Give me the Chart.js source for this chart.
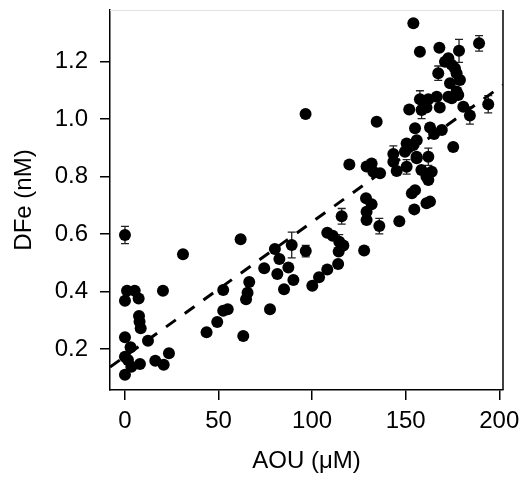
<!DOCTYPE html>
<html>
<head>
<meta charset="utf-8">
<script src="https://cdn.jsdelivr.net/npm/chart.js@4/dist/chart.umd.min.js"></script>
<style>
  html, body { margin: 0; padding: 0; background: #fff; }
  canvas { display: block; }
</style>
</head>
<body>
<canvas id="c" width="522" height="478"></canvas>
<script>
// ---- data ----
const aou = [
  0, 31, 1.1, 5.2, 0, 7.3, 20.3, 7.5, 7.8, 8.4, 0, 12.3, 3.0, 0, 1.6, 3.4, 8.0, 16.2, 20.7, 23.5, 0,
  43.6, 49.3, 52.5, 54.9, 52.5, 61.8, 63.2, 66.4, 65.5, 64.7, 77.5, 74.4, 80.1, 82.5, 81.4, 87.3, 85.0, 90.0,
  89.1, 96.6, 100.1, 103.7, 108.1, 108.1, 96.5,
  119.9, 129.1, 131.8, 132.7, 136.3, 143.4, 145.2, 150.5, 149.6, 154.1, 155.8, 158.4, 161.1, 155.0, 153.3,
  154.6, 161.1, 128.8, 131.8, 129.1, 129.1, 135.9, 146.6, 115.8, 111.0, 114.5, 116.7, 114.2, 127.8, 113.9, 134.5,
  154.1, 157.6, 168.0, 178.5, 189.2, 171.0, 172.8, 174.6, 176.3, 177.2, 167.4, 173.7, 179.0, 177.2, 172.8,
  174.6, 178.1, 157.6, 162.1, 166.6, 151.9, 158.5, 161.1, 168.2, 180.8, 184.3, 194.1, 155.0, 163.0, 165.2,
  169.3, 175.4, 155.9, 150.5, 143.4, 155.9, 162.1, 163.9, 162.1, 163.0
];
const dfe = [
  0.597, 0.530, 0.403, 0.403, 0.368, 0.376, 0.403, 0.315, 0.295, 0.272, 0.241, 0.229, 0.206, 0.173, 0.162, 0.138, 0.148, 0.159, 0.145, 0.185, 0.110,
  0.258, 0.294, 0.333, 0.338, 0.405, 0.582, 0.245, 0.433, 0.396, 0.373, 0.338, 0.481, 0.548, 0.513, 0.461, 0.484, 0.408, 0.440,
  0.562, 0.541, 0.420, 0.450, 0.477, 0.605, 1.018,
  0.842, 0.835, 0.846, 0.817, 0.812, 0.879, 0.820, 0.834, 0.887, 0.910, 0.869, 0.823, 0.800, 0.753, 0.742,
  0.686, 0.707, 0.725, 0.704, 0.678, 0.649, 0.628, 0.645, 0.662, 0.594, 0.573, 0.560, 0.539, 0.543, 0.496, 0.991,
  1.334, 1.235, 1.249, 1.238, 1.264, 1.200, 1.212, 1.189, 1.177, 1.160, 1.160, 1.125, 1.136, 1.096, 1.078,
  1.073, 1.084, 1.069, 1.069, 1.078, 1.034, 1.032, 1.041, 1.041, 1.043, 1.013, 1.052, 0.968, 0.971, 0.948,
  0.962, 0.903, 0.927, 0.915, 0.852, 0.864, 0.869, 0.817, 0.788, 0.713
];
// error bars: index into the arrays above, half-length in nM
const errIndex = [0, 39, 40, 51, 53, 67, 69, 71, 80, 81, 87, 94, 98, 102, 103, 113];
const errSize  = [0.03, 0.045, 0.02, 0.028, 0.025, 0.027, 0.027, 0.025, 0.04, 0.027, 0.025, 0.03, 0.03, 0.03, 0.03, 0.03];
// dashed regression line end points
const fitX = [-8, 202];
const fitY = [0.137, 1.119];
const xTicks = [0, 50, 100, 150, 200];
const yTicks = [0.2, 0.4, 0.6, 0.8, 1.0, 1.2];

const FONT = "'Liberation Sans', Arial, Helvetica, sans-serif";

const points = aou.map((x, i) => ({ x: x, y: dfe[i] }));
const fitLine = fitX.map((x, i) => ({ x: x, y: fitY[i] }));

const errorBars = {
  id: 'errorBars',
  beforeDatasetsDraw(chart) {
    const { ctx, scales: { x, y } } = chart;
    ctx.save();
    ctx.strokeStyle = '#222';
    ctx.lineWidth = 1.3;
    errIndex.forEach((idx, k) => {
      const px = x.getPixelForValue(aou[idx]);
      const top = y.getPixelForValue(dfe[idx] + errSize[k]);
      const bot = y.getPixelForValue(dfe[idx] - errSize[k]);
      ctx.beginPath();
      ctx.moveTo(px, top); ctx.lineTo(px, bot);
      ctx.moveTo(px - 4, top); ctx.lineTo(px + 4, top);
      ctx.moveTo(px - 4, bot); ctx.lineTo(px + 4, bot);
      ctx.stroke();
    });
    ctx.restore();
  }
};

const frame = {
  id: 'frame',
  afterDraw(chart) {
    const { ctx, chartArea: a } = chart;
    ctx.save();
    ctx.strokeStyle = '#e2e2e2';
    ctx.lineWidth = 1;
    ctx.beginPath();
    ctx.moveTo(a.left, a.top + 0.5); ctx.lineTo(a.right, a.top + 0.5);
    ctx.stroke();
    ctx.strokeStyle = '#000';
    ctx.lineWidth = 1.5;
    ctx.beginPath();
    ctx.moveTo(a.right, a.top); ctx.lineTo(a.right, a.bottom);
    ctx.stroke();
    ctx.restore();
  }
};

new Chart(document.getElementById('c'), {
  type: 'scatter',
  data: {
    datasets: [
      {
        type: 'line',
        data: fitLine,
        borderColor: '#000',
        borderWidth: 3,
        borderDash: [12, 11],
        pointRadius: 0,
        fill: false,
        order: 0
      },
      {
        data: points,
        backgroundColor: '#000',
        borderColor: '#000',
        borderWidth: 0,
        pointRadius: 6,
        order: 1
      }
    ]
  },
  options: {
    responsive: false,
    animation: false,
    devicePixelRatio: 1,
    layout: { padding: { top: 10, right: 19, left: 0, bottom: 0 } },
    plugins: { legend: { display: false }, tooltip: { enabled: false } },
    scales: {
      x: {
        type: 'linear',
        min: -8,
        max: 202,
        afterBuildTicks: s => { s.ticks = xTicks.map(v => ({ value: v })); },
        afterFit: s => { s.height = 88; s.paddingLeft = 0; s.paddingRight = 0; },
        border: { display: true, color: '#000', width: 1.5 },
        grid: { drawOnChartArea: false, drawTicks: true, tickLength: 10, color: '#000', lineWidth: 1.5 },
        ticks: { color: '#000', font: { family: FONT, size: 24 }, padding: 7, maxRotation: 0,
                 callback: v => String(v) },
        title: { display: true, text: 'AOU (\u03bcM)', color: '#000',
                 font: { family: FONT, size: 24 }, padding: { top: 0, bottom: 2 } }
      },
      y: {
        type: 'linear',
        min: 0.0573,
        max: 1.38,
        afterBuildTicks: s => { s.ticks = yTicks.map(v => ({ value: v })); },
        afterFit: s => { s.width = 110; s.paddingTop = 0; s.paddingBottom = 0; },
        border: { display: true, color: '#000', width: 1.5 },
        grid: { drawOnChartArea: false, drawTicks: true, tickLength: 10, color: '#000', lineWidth: 1.5 },
        ticks: { color: '#000', font: { family: FONT, size: 24 }, padding: 12,
                 callback: v => Number(v).toFixed(1) },
        title: { display: true, text: 'DFe (nM)', color: '#000',
                 font: { family: FONT, size: 24 }, padding: { top: 10, bottom: 0 } }
      }
    }
  },
  plugins: [errorBars, frame]
});
</script>
</body>
</html>
